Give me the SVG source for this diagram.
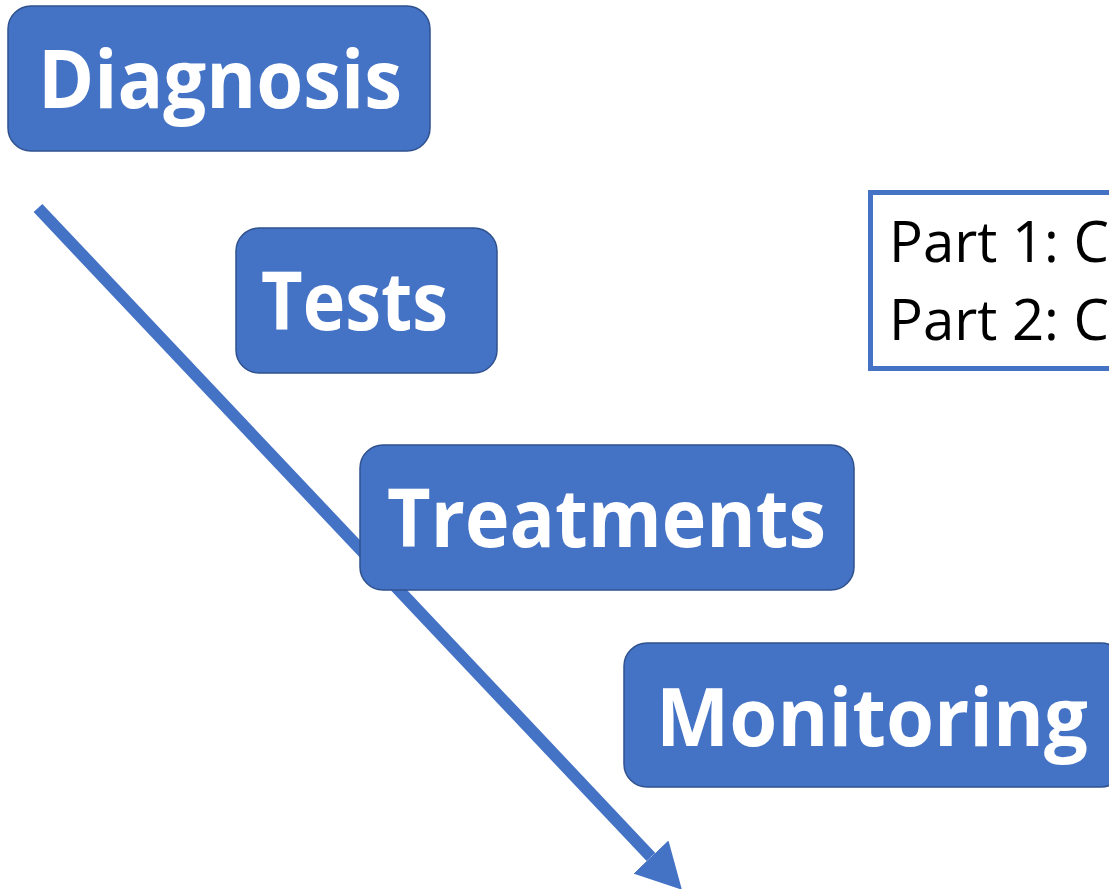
<svg xmlns="http://www.w3.org/2000/svg" width="1109" height="889" viewBox="0 0 1109 889">
  <style>
    .box { fill: #4472C4; stroke: #2F528F; stroke-width: 1.5; }
    .lbl { font-family: "Open Sans", "Liberation Sans", sans-serif; font-weight: bold; fill: #FFFFFF; font-size: 81px; }
    .note { font-family: "Open Sans", "Liberation Sans", sans-serif; fill: #000000; font-size: 56px; }
    .conn { stroke: #4472C4; stroke-width: 12; fill: none; }
  </style>
  <defs>
    <marker id="head" viewBox="0 0 45 48" refX="0" refY="24" markerWidth="45" markerHeight="48" markerUnits="userSpaceOnUse" orient="auto">
      <path d="M0,0 L45,24 L0,48 Z" fill="#4472C4"/>
    </marker>
  </defs>
  <rect width="1109" height="889" fill="#FFFFFF"/>
  <g id="connectors">
    <line class="conn" x1="38" y1="208" x2="651" y2="857" marker-end="url(#head)"/>
  </g>
  <g id="diagnosis">
    <rect class="box" x="8" y="6" width="422" height="145" rx="23"/>
    <text class="lbl" x="38" y="108" textLength="364" lengthAdjust="spacingAndGlyphs">Diagnosis</text>
  </g>
  <g id="tests">
    <rect class="box" x="236" y="228" width="261" height="145" rx="23"/>
    <text class="lbl" x="261" y="330" textLength="187" lengthAdjust="spacingAndGlyphs">Tests</text>
  </g>
  <g id="treatments">
    <rect class="box" x="360" y="445" width="494" height="145" rx="23"/>
    <text class="lbl" x="387" y="547" textLength="439" lengthAdjust="spacingAndGlyphs">Treatments</text>
  </g>
  <g id="monitoring">
    <rect class="box" x="624" y="643" width="500" height="144" rx="23"/>
    <text class="lbl" x="656" y="746" textLength="432" lengthAdjust="spacingAndGlyphs">Monitoring</text>
  </g>
  <g id="parts">
    <rect x="870.5" y="192.5" width="260" height="176" fill="#FFFFFF" stroke="#4472C4" stroke-width="5"/>
    <text class="note" x="889" y="262" textLength="220" lengthAdjust="spacingAndGlyphs">Part 1: C</text>
    <text class="note" x="889" y="340" textLength="220" lengthAdjust="spacingAndGlyphs">Part 2: C</text>
  </g>
</svg>
